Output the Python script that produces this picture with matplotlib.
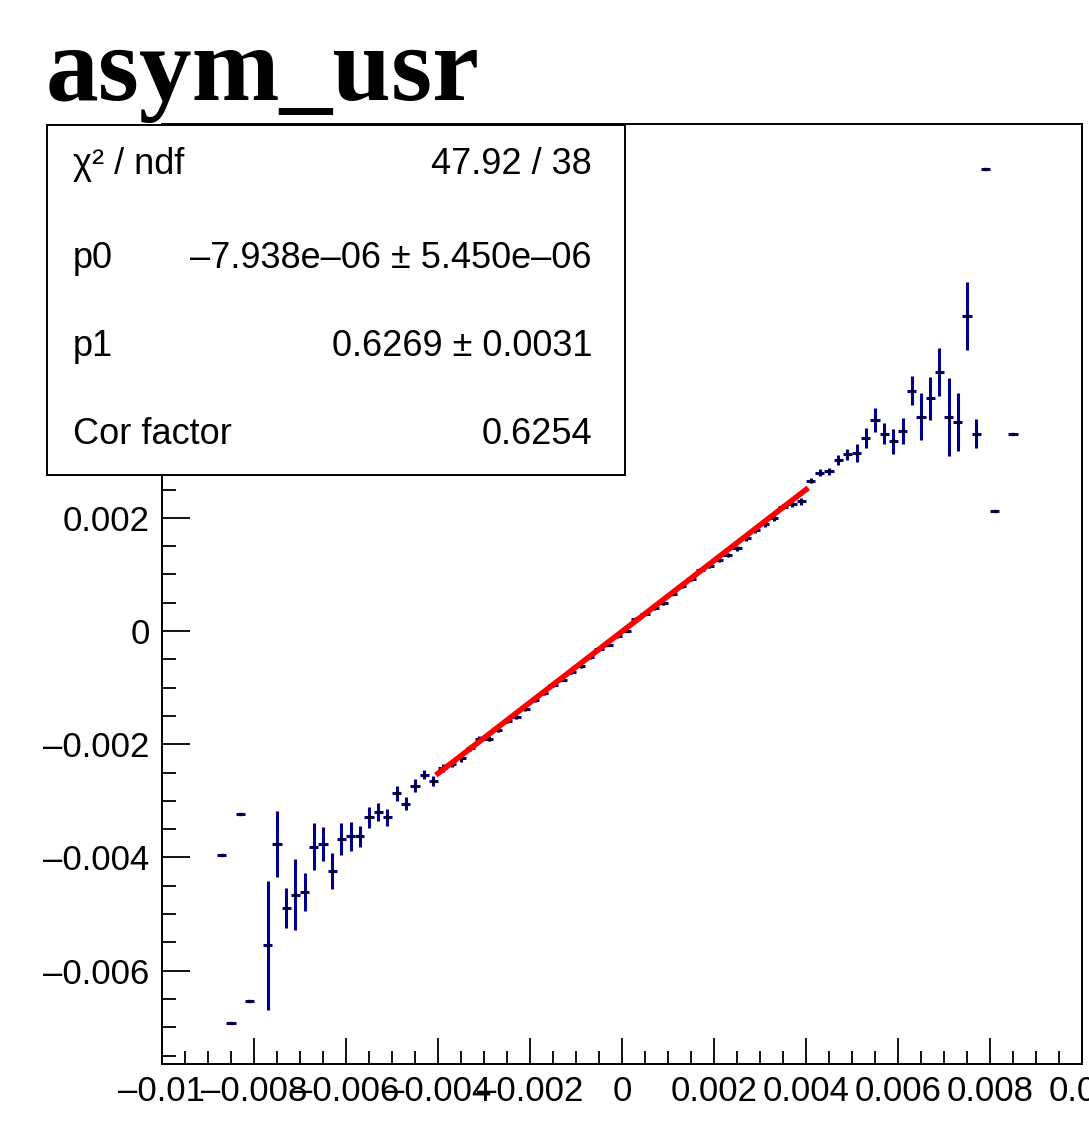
import numpy as np
import matplotlib
matplotlib.use("Agg")
import matplotlib.pyplot as plt
from matplotlib.patches import Rectangle
from matplotlib.ticker import MultipleLocator, FixedLocator, FixedFormatter

plt.rcParams['font.family'] = ['Liberation Sans', 'DejaVu Sans']

# profile binning: 100 bins on [-0.01, 0.01]
n_bins = 100
x_lo, x_hi = -0.01, 0.01

# filled bins (index), mean value and error on the mean
bin_index = [6, 7, 8, 9,
             11, 12, 13, 14, 15, 16, 17, 18, 19, 20,
             21, 22, 23, 24, 25, 26, 27, 28, 29,
             30, 31, 32, 33, 34, 35, 36, 37, 38, 39,
             40, 41, 42, 43, 44, 45, 46, 47, 48, 49,
             50, 51, 52, 53, 54, 55, 56, 57, 58, 59,
             60, 61, 62, 63, 64, 65, 66, 67, 68, 69,
             70, 71, 72, 73, 74, 75, 76, 77, 78, 79,
             80, 81, 82, 83, 84, 85, 86, 87, 88, 89,
             90, 92]
y_mean = [-0.00396, -0.00692, -0.00324, -0.00654,
          -0.00555, -0.00376, -0.00489, -0.00466, -0.00461, -0.00381, -0.00376, -0.00424, -0.00367, -0.00363,
          -0.00363, -0.00329, -0.00319, -0.00329, -0.00287, -0.00305, -0.00273, -0.00254, -0.00265,
          -0.00242, -0.00235, -0.00225, -0.00207, -0.00190, -0.00190, -0.00175, -0.00159, -0.00151, -0.00137,
          -0.00122, -0.00110, -0.00095, -0.00086, -0.00072, -0.00062, -0.00046, -0.00031, -0.00024, -0.00009,
          0.00001, 0.00022, 0.00031, 0.00040, 0.00049, 0.00066, 0.00079, 0.00092, 0.00108, 0.00115,
          0.00126, 0.00134, 0.00146, 0.00164, 0.00178, 0.00189, 0.00200, 0.00220, 0.00225, 0.00229,
          0.00266, 0.00280, 0.00282, 0.00302, 0.00312, 0.00315, 0.00341, 0.00373, 0.00349, 0.00335,
          0.00354, 0.00425, 0.00379, 0.00411, 0.00458, 0.00379, 0.00369, 0.00557, 0.00349, 0.00816,
          0.00213, 0.00349]
y_err = [0.0, 0.0, 0.0, 0.0,
         0.00114, 0.00058, 0.00035, 0.00063, 0.00033, 0.00042, 0.00030, 0.00032, 0.00028, 0.00026,
         0.00018, 0.00019, 0.00016, 0.00015, 0.00013, 0.00012, 0.00011, 0.00008, 0.00009,
         0.00007, 0.00006, 0.00006, 0.00005, 0.00005, 0.00005, 0.00004, 0.00004, 0.00004, 0.00004,
         0.00003, 0.00003, 0.00003, 0.00003, 0.00003, 0.00003, 0.00003, 0.00003, 0.00003, 0.00003,
         0.00003, 0.00003, 0.00003, 0.00003, 0.00003, 0.00003, 0.00003, 0.00003, 0.00003, 0.00004,
         0.00004, 0.00004, 0.00004, 0.00004, 0.00005, 0.00005, 0.00005, 0.00005, 0.00006, 0.00006,
         0.00005, 0.00006, 0.00006, 0.00009, 0.00009, 0.00016, 0.00018, 0.00022, 0.00019, 0.00022,
         0.00023, 0.00025, 0.00041, 0.00038, 0.00043, 0.00069, 0.00051, 0.00060, 0.00025, 0.0,
         0.0, 0.0]

# linear fit result
fit_range = (-0.004, 0.004)
p0 = -7.938e-06
p1 = 0.6269

stat_labels = ["χ² / ndf", "p0", "p1", "Cor factor"]
stat_values = ["47.92 / 38", "–7.938e–06 ± 5.450e–06", "0.6269 ± 0.0031", "0.6254"]

x_tick_vals = [-0.01, -0.008, -0.006, -0.004, -0.002, 0.0, 0.002, 0.004, 0.006, 0.008, 0.01]
x_tick_text = ["–0.01", "–0.008", "–0.006", "–0.004", "–0.002", "0",
               "0.002", "0.004", "0.006", "0.008", "0.01"]
y_tick_vals = [-0.006, -0.004, -0.002, 0.0, 0.002]
y_tick_text = ["–0.006", "–0.004", "–0.002", "0", "0.002"]

W, H = 1089, 1133
fig = plt.figure(figsize=(W / 100, H / 100), dpi=100)
ax = fig.add_axes([162 / W, 1 - 1064 / H, 920 / W, 940 / H])

edges = np.linspace(x_lo, x_hi, n_bins + 1)
centers = 0.5 * (edges[:-1] + edges[1:])
half_w = 0.5 * (edges[1] - edges[0])
xs = centers[np.array(bin_index)]

blue = '#00008c'
ax.errorbar(xs, y_mean, yerr=y_err, xerr=half_w, fmt='none',
            ecolor=blue, elinewidth=2.2, capsize=0, zorder=2)
ax.plot(xs, y_mean, ls='none', marker='s', ms=1.6, color='black', zorder=3)

fx = np.linspace(fit_range[0], fit_range[1], 200)
ax.plot(fx, p0 + p1 * fx, color='red', lw=4.0, zorder=4)

ax.set_xlim(x_lo, x_hi)
ax.set_ylim(-0.00765, 0.00896)

ax.xaxis.set_major_locator(FixedLocator(x_tick_vals))
ax.xaxis.set_major_formatter(FixedFormatter(x_tick_text))
ax.yaxis.set_major_locator(FixedLocator(y_tick_vals))
ax.yaxis.set_major_formatter(FixedFormatter(y_tick_text))
ax.xaxis.set_minor_locator(MultipleLocator(0.0005))
ax.yaxis.set_minor_locator(MultipleLocator(0.0005))

ax.tick_params(axis='both', which='both', direction='in', top=False, right=False,
               width=1.3, labelsize=25, colors='black')
ax.tick_params(axis='x', which='major', length=19, pad=8)
ax.tick_params(axis='x', which='minor', length=9.5)
ax.tick_params(axis='y', which='major', length=20, pad=9)
ax.tick_params(axis='y', which='minor', length=10)
for s in ax.spines.values():
    s.set_linewidth(1.4)

# title
fig.text(46 / W, 1 - 100 / H, "asym_usr", family='Liberation Serif', weight='bold',
         fontsize=76, va='baseline', ha='left')

# fit statistics box
box = Rectangle((47 / W, 1 - 475 / H), 578 / W, 350 / H, transform=fig.transFigure,
                facecolor='white', edgecolor='black', lw=1.4, zorder=5)
fig.add_artist(box)
rows_y = [165, 258, 347, 435]
for lab, val, yy in zip(stat_labels, stat_values, rows_y):
    fig.text(73 / W, 1 - yy / H, lab, fontsize=26, va='center', ha='left', zorder=6)
    fig.text(592 / W, 1 - yy / H, val, fontsize=26, va='center', ha='right', zorder=6)

fig.savefig("out.png", dpi=100)
